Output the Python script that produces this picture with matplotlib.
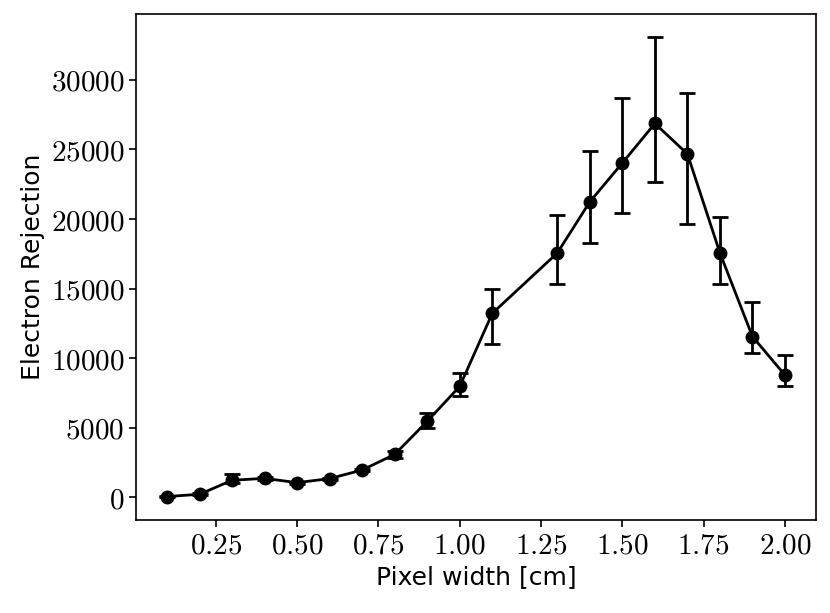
import matplotlib
matplotlib.use("Agg")
import matplotlib.pyplot as plt
from matplotlib.ticker import FuncFormatter, MultipleLocator
import numpy as np

plt.rcParams['mathtext.fontset'] = 'cm'

pixel_width = [0.1, 0.2, 0.3, 0.4, 0.5, 0.6, 0.7, 0.8, 0.9, 1.0,
               1.1, 1.3, 1.4, 1.5, 1.6, 1.7, 1.8, 1.9, 2.0]
rejection = [50, 215, 1220, 1360, 1050, 1340, 1960, 3080, 5460, 7970,
             13220, 17560, 21240, 24030, 26870, 24680, 17560, 11550, 8780]
err_low = [20, 60, 200, 100, 80, 80, 100, 230, 460, 720,
           2220, 2260, 2960, 3600, 4240, 5040, 2260, 1190, 810]
err_high = [30, 80, 480, 100, 80, 80, 100, 260, 600, 960,
            1720, 2700, 3630, 4700, 6210, 4410, 2580, 2460, 1460]

fig = plt.figure(figsize=(8.3, 6.13), dpi=100)
ax = fig.add_axes([0.164, 0.152, 0.819, 0.825])

ax.errorbar(pixel_width, rejection, yerr=[err_low, err_high], fmt='-o',
            color='black', markersize=9, linewidth=2, elinewidth=2,
            capsize=6, capthick=2)

ax.xaxis.set_major_locator(MultipleLocator(0.25))
ax.yaxis.set_major_locator(MultipleLocator(5000))
ax.xaxis.set_major_formatter(FuncFormatter(lambda v, p: r'$%.2f$' % v))
ax.yaxis.set_major_formatter(FuncFormatter(lambda v, p: r'$%d$' % int(round(v))))
ax.tick_params(labelsize=21, width=1.2, length=5)
for s in ax.spines.values():
    s.set_linewidth(1.2)

ax.set_xlabel('Pixel width [cm]', fontsize=18, family='DejaVu Sans')
ax.set_ylabel('Electron Rejection', fontsize=18, family='DejaVu Sans')

fig.savefig('out.png', dpi=100)
